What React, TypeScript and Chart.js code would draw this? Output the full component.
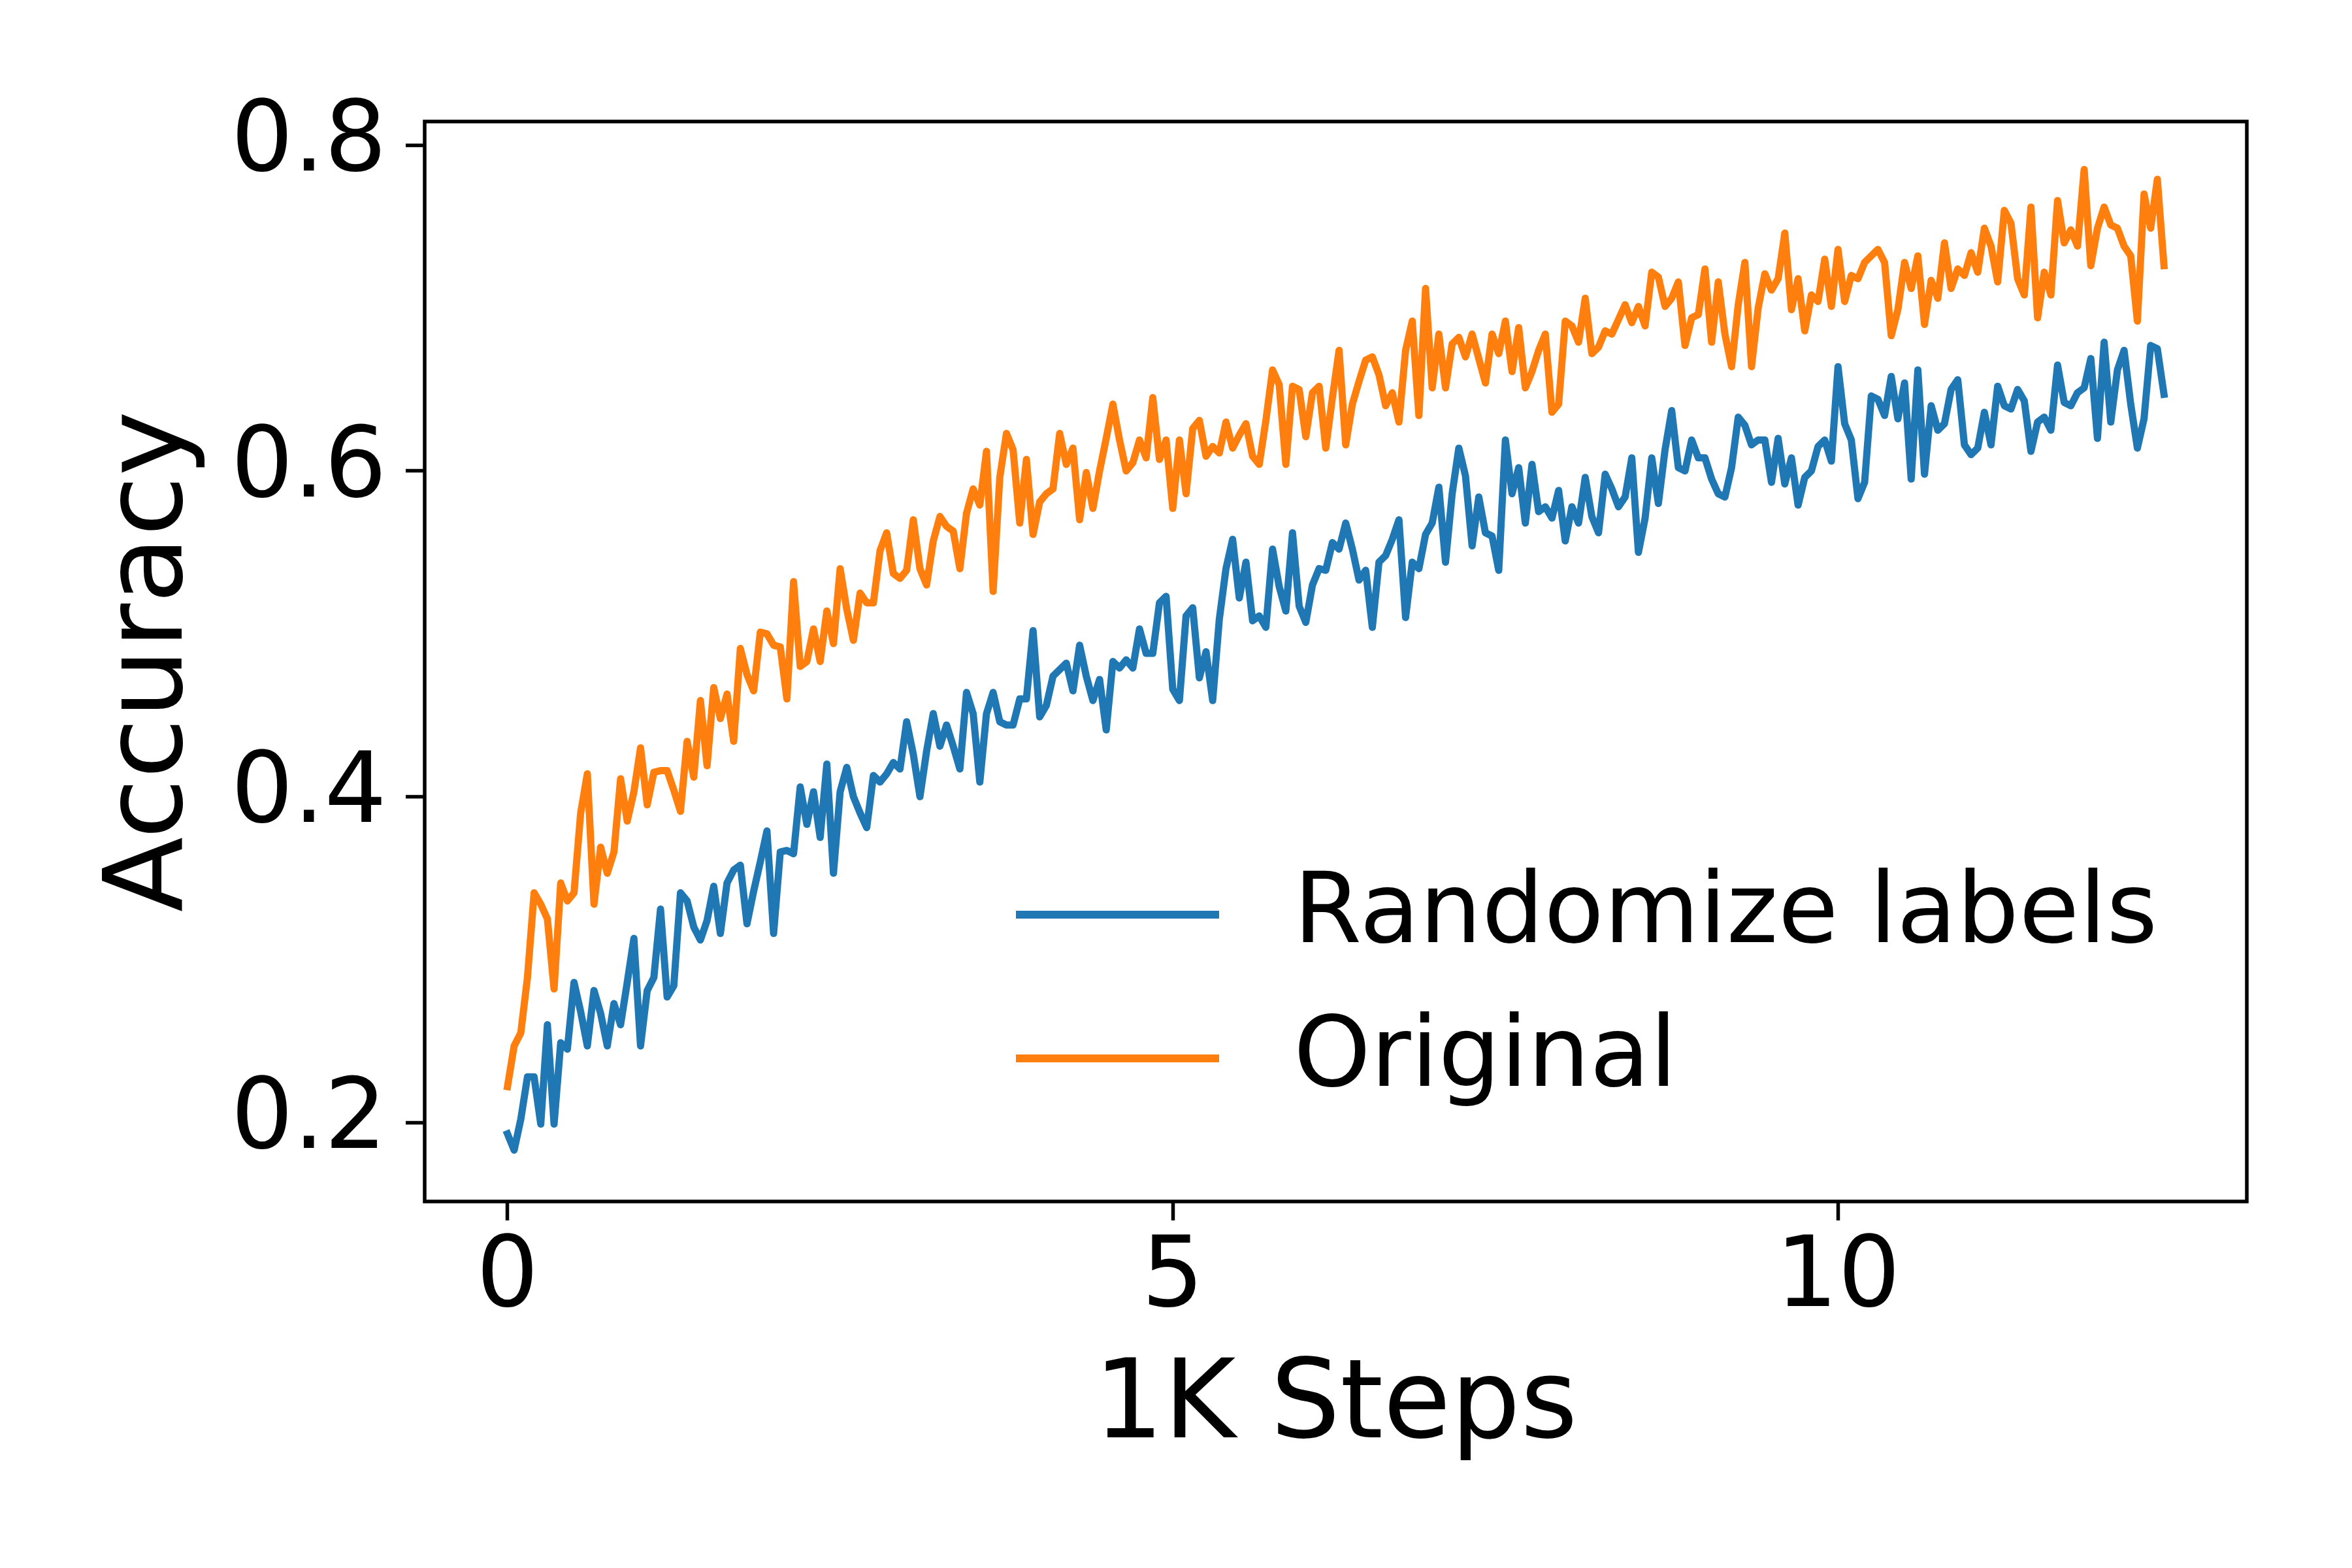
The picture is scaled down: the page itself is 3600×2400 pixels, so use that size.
import { useEffect, useRef } from "react";
import { Chart, registerables } from "chart.js";

Chart.register(...registerables);

// accuracy per logged point, one point every 50 steps (0.05 K)
const STEP_K = 0.05;

const randomizeLabels = [
	0.193, 0.183, 0.202, 0.228, 0.228, 0.199, 0.26, 0.199, 0.249, 0.245,
	0.286, 0.268, 0.247, 0.281, 0.267, 0.247, 0.273, 0.26, 0.286, 0.313,
	0.247, 0.281, 0.289, 0.331, 0.277, 0.284, 0.341, 0.336, 0.32, 0.312,
	0.324, 0.345, 0.316, 0.347, 0.355, 0.358, 0.322, 0.342, 0.36, 0.379,
	0.316, 0.366, 0.367, 0.365, 0.406, 0.383, 0.403, 0.375, 0.42, 0.353,
	0.403, 0.418, 0.4, 0.39, 0.381, 0.413, 0.409, 0.414, 0.421, 0.417,
	0.446, 0.426, 0.4, 0.428, 0.451, 0.431, 0.444, 0.431, 0.417, 0.464,
	0.451, 0.409, 0.451, 0.464, 0.446, 0.444, 0.444, 0.46, 0.46, 0.502,
	0.449, 0.456, 0.474, 0.478, 0.482, 0.465, 0.493, 0.474, 0.459, 0.472,
	0.441, 0.483, 0.479, 0.484, 0.479, 0.503, 0.488, 0.488, 0.519, 0.523,
	0.466, 0.459, 0.511, 0.516, 0.473, 0.489, 0.459, 0.509, 0.54, 0.558,
	0.522, 0.544, 0.508, 0.511, 0.504, 0.552, 0.529, 0.514, 0.562, 0.517,
	0.507, 0.53, 0.54, 0.539, 0.556, 0.552, 0.568, 0.552, 0.533, 0.539,
	0.504, 0.544, 0.548, 0.558, 0.57, 0.51, 0.544, 0.54, 0.561, 0.568,
	0.59, 0.544, 0.586, 0.614, 0.597, 0.554, 0.584, 0.562, 0.56, 0.539,
	0.619, 0.586, 0.602, 0.568, 0.604, 0.575, 0.578, 0.571, 0.588, 0.557,
	0.578, 0.568, 0.596, 0.572, 0.562, 0.598, 0.589, 0.578, 0.584, 0.608,
	0.55, 0.571, 0.608, 0.58, 0.613, 0.637, 0.602, 0.6, 0.619, 0.608,
	0.608, 0.595, 0.586, 0.584, 0.602, 0.633, 0.628, 0.616, 0.619, 0.619,
	0.593, 0.62, 0.592, 0.608, 0.579, 0.596, 0.6, 0.615, 0.619, 0.606,
	0.664, 0.629, 0.619, 0.583, 0.593, 0.646, 0.644, 0.634, 0.658, 0.632,
	0.654, 0.595, 0.662, 0.598, 0.64, 0.625, 0.629, 0.65, 0.656, 0.616,
	0.61, 0.614, 0.636, 0.616, 0.652, 0.64, 0.638, 0.65, 0.643, 0.612,
	0.63, 0.633, 0.625, 0.665, 0.642, 0.64, 0.648, 0.651, 0.669, 0.62,
	0.679, 0.63, 0.662, 0.674, 0.641, 0.614, 0.632, 0.677, 0.675, 0.647,
];

const original = [
	0.222, 0.247, 0.255, 0.289, 0.341, 0.334, 0.325, 0.282, 0.347, 0.336,
	0.341, 0.39, 0.414, 0.334, 0.369, 0.353, 0.366, 0.411, 0.385, 0.403,
	0.43, 0.395, 0.415, 0.416, 0.416, 0.404, 0.391, 0.434, 0.412, 0.459,
	0.419, 0.467, 0.448, 0.463, 0.434, 0.491, 0.475, 0.465, 0.501, 0.5,
	0.493, 0.492, 0.46, 0.532, 0.48, 0.483, 0.503, 0.483, 0.514, 0.494,
	0.54, 0.515, 0.496, 0.525, 0.519, 0.519, 0.551, 0.562, 0.537, 0.534,
	0.539, 0.57, 0.54, 0.53, 0.557, 0.572, 0.566, 0.563, 0.54, 0.574,
	0.589, 0.579, 0.612, 0.526, 0.596, 0.623, 0.613, 0.568, 0.607, 0.561,
	0.581, 0.586, 0.589, 0.623, 0.604, 0.614, 0.57, 0.599, 0.577, 0.6,
	0.62, 0.641, 0.619, 0.6, 0.605, 0.619, 0.608, 0.645, 0.607, 0.619,
	0.577, 0.619, 0.586, 0.626, 0.631, 0.609, 0.615, 0.611, 0.63, 0.614,
	0.622, 0.629, 0.609, 0.604, 0.631, 0.662, 0.653, 0.604, 0.652, 0.65,
	0.621, 0.648, 0.652, 0.614, 0.645, 0.674, 0.616, 0.641, 0.655, 0.668,
	0.67, 0.659, 0.64, 0.648, 0.63, 0.674, 0.692, 0.634, 0.712, 0.651,
	0.684, 0.651, 0.678, 0.682, 0.67, 0.684, 0.669, 0.654, 0.684, 0.672,
	0.692, 0.661, 0.688, 0.651, 0.661, 0.674, 0.684, 0.636, 0.641, 0.692,
	0.689, 0.679, 0.706, 0.672, 0.676, 0.686, 0.684, 0.693, 0.702, 0.691,
	0.701, 0.689, 0.722, 0.719, 0.701, 0.706, 0.716, 0.677, 0.694, 0.696,
	0.724, 0.679, 0.716, 0.684, 0.664, 0.702, 0.728, 0.664, 0.7, 0.721,
	0.711, 0.718, 0.746, 0.699, 0.718, 0.686, 0.708, 0.704, 0.73, 0.701,
	0.736, 0.704, 0.72, 0.718, 0.728, 0.732, 0.736, 0.728, 0.683, 0.699,
	0.728, 0.712, 0.732, 0.69, 0.717, 0.706, 0.74, 0.712, 0.724, 0.72,
	0.734, 0.722, 0.749, 0.738, 0.716, 0.76, 0.752, 0.718, 0.708, 0.762,
	0.694, 0.722, 0.708, 0.766, 0.74, 0.748, 0.738, 0.785, 0.726, 0.749,
	0.762, 0.751, 0.749, 0.738, 0.732, 0.692, 0.77, 0.749, 0.779, 0.726,
];

const seriesLabels = ["Randomize labels", "Original"];
const seriesColors = ["#1f77b4", "#ff7f0e"];

const xTicks = [0, 5, 10];
const yTicks = [0.2, 0.4, 0.6, 0.8];

const FONT = "'DejaVu Sans', sans-serif";

// matplotlib style box around the plot, plus the legend in the lower right
const frameLegendPlugin = {
	id: "frameLegend",
	afterDatasetsDraw(chart: Chart) {
		const { ctx, chartArea: a } = chart;
		ctx.save();
		ctx.strokeStyle = "#000";
		ctx.lineWidth = 5.5;
		ctx.strokeRect(a.left, a.top, a.right - a.left, a.bottom - a.top);

		ctx.font = `150px ${FONT}`;
		ctx.textBaseline = "middle";
		ctx.textAlign = "left";
		ctx.lineCap = "butt";
		chart.data.datasets.forEach((ds, i) => {
			const y = a.top + 1214 + i * 220;
			ctx.strokeStyle = ds.borderColor as string;
			ctx.lineWidth = 12;
			ctx.beginPath();
			ctx.moveTo(a.left + 905, y);
			ctx.lineTo(a.left + 1216, y);
			ctx.stroke();
			ctx.fillStyle = "#000";
			ctx.fillText(ds.label as string, a.left + 1330, y + 3);
		});
		ctx.restore();
	},
};

export default function App() {
	const chartRef = useRef<HTMLCanvasElement | null>(null);
	const chartInstance = useRef<Chart | null>(null);

	useEffect(() => {
		document.body.style.margin = "0";
		if (!chartRef.current) return;
		const ctx = chartRef.current.getContext("2d");
		if (!ctx) return;

		if (chartInstance.current) {
			chartInstance.current.destroy();
		}

		const toPoints = (values: number[]) =>
			values.map((v, i) => ({ x: i * STEP_K, y: v }));

		const tickGrid = {
			display: true,
			drawOnChartArea: false,
			drawTicks: true,
			tickLength: 29,
			tickWidth: 5.5,
			tickColor: "#000",
		};

		chartInstance.current = new Chart(ctx, {
			type: "line",
			data: {
				datasets: [randomizeLabels, original].map((values, i) => ({
					label: seriesLabels[i],
					data: toPoints(values),
					borderColor: seriesColors[i],
					backgroundColor: seriesColors[i],
					borderWidth: 11,
					borderJoinStyle: "round",
					borderCapStyle: "square",
					pointRadius: 0,
					tension: 0,
					fill: false,
				})),
			},
			options: {
				animation: false,
				responsive: true,
				maintainAspectRatio: false,
				devicePixelRatio: 1,
				layout: {
					padding: { top: 186, right: 161, left: 0, bottom: 0 },
				},
				plugins: {
					legend: { display: false },
					tooltip: { enabled: false },
				},
				scales: {
					x: {
						type: "linear",
						min: -0.6225,
						max: 13.0725,
						afterFit: (scale) => {
							scale.height = 561;
						},
						afterBuildTicks: (scale) => {
							scale.ticks = xTicks.map((value) => ({ value }));
						},
						border: { display: false },
						grid: tickGrid,
						ticks: {
							color: "#000",
							padding: 2,
							maxRotation: 0,
							font: { size: 150, family: FONT },
							callback: (value) => String(value),
						},
						title: {
							display: true,
							text: "1K Steps",
							color: "#000",
							font: { size: 168, family: FONT },
							padding: { top: 0, bottom: 143 },
						},
					},
					y: {
						type: "linear",
						min: 0.1515,
						max: 0.8145,
						afterFit: (scale) => {
							scale.width = 650;
						},
						afterBuildTicks: (scale) => {
							scale.ticks = yTicks.map((value) => ({ value }));
						},
						border: { display: false },
						grid: tickGrid,
						ticks: {
							color: "#000",
							padding: 29,
							font: { size: 150, family: FONT },
							callback: (value) => Number(value).toFixed(1),
						},
						title: {
							display: true,
							text: "Accuracy",
							color: "#000",
							font: { size: 168, family: FONT },
							padding: { top: 134, bottom: 0 },
						},
					},
				},
			},
			plugins: [frameLegendPlugin],
		});

		return () => {
			if (chartInstance.current) {
				chartInstance.current.destroy();
				chartInstance.current = null;
			}
		};
	}, []);

	return (
		<div style={{ width: 3600, height: 2400, position: "relative", background: "#fff" }}>
			<canvas ref={chartRef} />
		</div>
	);
}
